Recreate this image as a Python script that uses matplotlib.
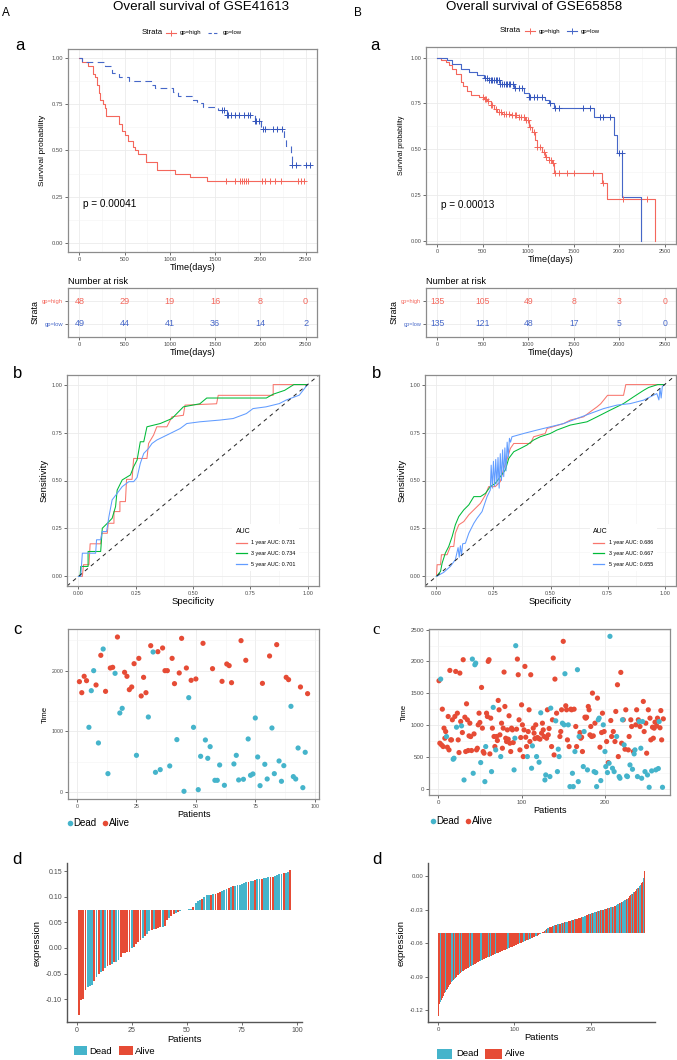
import numpy as np
import matplotlib
matplotlib.use('Agg')
import matplotlib.pyplot as plt
from matplotlib.lines import Line2D
from matplotlib.patches import Rectangle

plt.rcParams['font.family'] = ['Liberation Sans', 'DejaVu Sans']
plt.rcParams['axes.unicode_minus'] = False

# ---------------- data: Kaplan-Meier (step times / survival after step) ----------------
km_a_high_t = [0, 30, 92, 150, 176, 195, 215, 231, 260, 280, 297, 433, 470, 506, 543, 591, 617, 653, 738, 855, 1057, 1222, 1413]
km_a_high_s = [1.0, 0.979, 0.958, 0.917, 0.896, 0.854, 0.812, 0.771, 0.75, 0.729, 0.688, 0.646, 0.604, 0.583, 0.552, 0.521, 0.5, 0.479, 0.438, 0.396, 0.375, 0.354, 0.333]
km_a_high_cens = [1615, 1718, 1780, 1798, 1820, 1846, 1864, 2018, 2055, 2110, 2161, 2231, 2419, 2444, 2477]
km_a_low_t = [0, 30, 286, 360, 433, 550, 800, 840, 1038, 1094, 1259, 1296, 1369, 1534, 1626, 1938, 2011, 2260, 2287, 2334, 2353]
km_a_low_s = [1.0, 0.98, 0.959, 0.918, 0.898, 0.878, 0.857, 0.837, 0.816, 0.796, 0.776, 0.755, 0.735, 0.72, 0.695, 0.66, 0.615, 0.57, 0.527, 0.47, 0.42]
km_a_low_cens = [1571, 1596, 1626, 1644, 1673, 1718, 1765, 1820, 1864, 1890, 1938, 1956, 1985, 2029, 2048, 2139, 2183, 2242, 2353, 2397, 2507, 2543]

km_b_high_t = [0, 37, 91, 128, 164, 201, 256, 285, 329, 365, 457, 511, 548, 585, 621, 658, 712, 804, 895, 968, 1005, 1041, 1078, 1096, 1151, 1187, 1224, 1260, 1279, 1808, 1863, 2393]
km_b_high_s = [1.0, 0.985, 0.976, 0.958, 0.94, 0.913, 0.868, 0.844, 0.819, 0.796, 0.787, 0.776, 0.765, 0.741, 0.72, 0.705, 0.693, 0.687, 0.678, 0.66, 0.624, 0.597, 0.552, 0.515, 0.488, 0.461, 0.443, 0.425, 0.371, 0.317, 0.23, 0.0]
km_b_high_cens = [500, 520, 540, 560, 585, 600, 640, 680, 700, 730, 760, 790, 820, 850, 870, 900, 920, 950, 975, 1000, 1020, 1060, 1100, 1130, 1170, 1200, 1230, 1250, 1270, 1290, 1333, 1425, 1498, 1717, 1827, 2046, 2301]
km_b_low_t = [0, 110, 164, 256, 347, 438, 511, 566, 694, 840, 950, 1005, 1187, 1224, 1279, 1724, 1943, 1973, 2035, 2236]
km_b_low_s = [1.0, 0.985, 0.967, 0.94, 0.922, 0.904, 0.891, 0.878, 0.859, 0.837, 0.805, 0.787, 0.769, 0.751, 0.724, 0.678, 0.58, 0.48, 0.242, 0.0]
km_b_low_cens = [520, 545, 566, 585, 600, 621, 640, 658, 680, 694, 710, 731, 750, 767, 790, 804, 830, 859, 900, 932, 1005, 1023, 1060, 1096, 1151, 1242, 1297, 1333, 1607, 1680, 1790, 1827, 1900, 2002, 2032]

risk_times = [0, 500, 1000, 1500, 2000, 2500]
risk_a_high = [48, 29, 19, 16, 8, 0]
risk_a_low = [49, 44, 41, 36, 14, 2]
risk_b_high = [135, 105, 49, 8, 3, 0]
risk_b_low = [135, 121, 48, 17, 5, 0]

# ---------------- data: ROC (x axis labelled Specificity) ----------------
roc_a1_x = [0, 0.017, 0.022, 0.046, 0.051, 0.097, 0.101, 0.126, 0.13, 0.155, 0.155, 0.181, 0.181, 0.205, 0.21, 0.234, 0.241, 0.299, 0.306, 0.328, 0.342, 0.386, 0.408, 0.458, 0.465, 0.603, 0.61, 0.85, 0.85, 1.0]
roc_a1_y = [0, 0, 0.061, 0.061, 0.17, 0.17, 0.225, 0.225, 0.277, 0.277, 0.338, 0.338, 0.39, 0.39, 0.506, 0.506, 0.615, 0.615, 0.693, 0.737, 0.78, 0.78, 0.832, 0.84, 0.893, 0.9, 0.944, 0.944, 1.0, 1.0]
roc_a3_x = [0, 0.007, 0.01, 0.042, 0.042, 0.097, 0.104, 0.126, 0.147, 0.162, 0.169, 0.191, 0.227, 0.241, 0.256, 0.27, 0.285, 0.299, 0.357, 0.408, 0.458, 0.53, 0.56, 0.82, 0.85, 0.9, 0.94, 1.0]
roc_a3_y = [0, 0, 0.052, 0.052, 0.13, 0.13, 0.251, 0.277, 0.303, 0.364, 0.45, 0.503, 0.529, 0.572, 0.607, 0.702, 0.702, 0.78, 0.797, 0.823, 0.884, 0.9, 0.93, 0.93, 0.95, 0.97, 1.0, 1.0]
roc_a5_x = [0, 0.01, 0.017, 0.075, 0.079, 0.097, 0.104, 0.123, 0.133, 0.147, 0.169, 0.191, 0.22, 0.241, 0.256, 0.27, 0.285, 0.306, 0.321, 0.342, 0.371, 0.4, 0.444, 0.473, 0.53, 0.617, 0.675, 0.733, 0.762, 0.819, 0.877, 0.906, 0.964, 1.0]
roc_a5_y = [0, 0, 0.121, 0.121, 0.191, 0.191, 0.234, 0.234, 0.312, 0.399, 0.433, 0.468, 0.494, 0.494, 0.516, 0.589, 0.641, 0.667, 0.693, 0.711, 0.728, 0.745, 0.771, 0.797, 0.806, 0.815, 0.823, 0.849, 0.875, 0.884, 0.901, 0.919, 0.945, 1.0]
auc_a = ['1 year AUC: 0.731', '3 year AUC: 0.734', '5 year AUC: 0.701']

roc_b1_x = [0, 0.003, 0.018, 0.022, 0.047, 0.061, 0.076, 0.083, 0.098, 0.12, 0.142, 0.164, 0.193, 0.215, 0.229, 0.258, 0.28, 0.295, 0.309, 0.324, 0.339, 0.412, 0.426, 0.477, 0.485, 0.558, 0.587, 0.645, 0.674, 0.704, 0.72, 0.75, 0.82, 0.83, 1.0]
roc_b1_y = [0, 0.061, 0.061, 0.113, 0.113, 0.156, 0.156, 0.225, 0.269, 0.286, 0.321, 0.347, 0.381, 0.425, 0.468, 0.468, 0.494, 0.563, 0.607, 0.667, 0.693, 0.693, 0.728, 0.745, 0.771, 0.797, 0.815, 0.832, 0.858, 0.884, 0.9, 0.944, 0.944, 1.0, 1.0]
roc_b3_x = [0, 0.018, 0.025, 0.039, 0.054, 0.069, 0.083, 0.098, 0.12, 0.142, 0.164, 0.193, 0.215, 0.236, 0.258, 0.28, 0.302, 0.317, 0.339, 0.368, 0.397, 0.426, 0.455, 0.499, 0.528, 0.587, 0.66, 0.704, 0.762, 0.82, 0.864, 0.908, 0.93, 0.97, 1.0]
roc_b3_y = [0, 0.026, 0.069, 0.121, 0.156, 0.208, 0.269, 0.312, 0.347, 0.373, 0.416, 0.416, 0.433, 0.468, 0.485, 0.52, 0.555, 0.615, 0.65, 0.667, 0.685, 0.711, 0.728, 0.745, 0.763, 0.789, 0.806, 0.832, 0.867, 0.901, 0.936, 0.97, 0.985, 1.0, 1.0]
roc_b5_x = [0, 0.032, 0.061, 0.083, 0.095, 0.1, 0.105, 0.11, 0.115, 0.127, 0.142, 0.164, 0.178, 0.2, 0.222, 0.236,
            0.24, 0.245, 0.25, 0.255, 0.26, 0.265, 0.27, 0.275, 0.28, 0.285, 0.29, 0.295, 0.3, 0.305, 0.31, 0.315, 0.32, 0.325,
            0.331, 0.382, 0.441, 0.499, 0.558, 0.616, 0.674, 0.733, 0.791, 0.85, 0.908, 0.966, 0.975, 0.98, 0.985, 0.99, 1.0]
roc_b5_y = [0, 0.021, 0.052, 0.087, 0.15, 0.1, 0.16, 0.11, 0.17, 0.173, 0.225, 0.277, 0.303, 0.338, 0.416, 0.45,
            0.58, 0.46, 0.6, 0.47, 0.61, 0.48, 0.62, 0.46, 0.64, 0.5, 0.66, 0.52, 0.67, 0.55, 0.7, 0.62, 0.72, 0.7,
            0.728, 0.745, 0.763, 0.78, 0.797, 0.823, 0.849, 0.875, 0.893, 0.901, 0.919, 0.953, 0.92, 0.98, 0.93, 0.99, 1.0]
auc_b = ['1 year AUC: 0.686', '3 year AUC: 0.667', '5 year AUC: 0.655']

# ---------------- data: patients (ordered by risk score), 1 = dead ----------------
times_a = [1819, 1637, 1907, 1835, 1066, 1670, 2000, 1764, 808, 2253,
           2357, 1659, 302, 2044, 2055, 1956, 2555, 1302, 1379, 1973,
           1907, 1687, 1731, 2115, 604, 2203, 1583, 1890, 1637, 1236,
           2412, 2308, 324, 2313, 368, 2374, 2000, 2000, 429, 2203,
           1786, 863, 1962, 2533, 11, 2044, 1555, 1841, 1066, 1863,
           38, 588, 2451, 857, 555, 747, 2033, 192, 192, 445,
           1824, 110, 2110, 2083, 1802, 462, 604, 198, 2495, 209,
           2171, 874, 275, 297, 1220, 577, 104, 1791, 456, 214,
           2242, 1055, 302, 2429, 511, 176, 434, 1890, 1852, 1412,
           253, 214, 725, 1731, 71, 654, 1621]
status_a = [0, 0, 0, 0, 1, 1, 1, 0, 1, 0,
            1, 0, 1, 0, 0, 1, 0, 1, 1, 0,
            0, 0, 0, 0, 1, 0, 0, 0, 0, 1,
            0, 1, 1, 0, 1, 0, 0, 0, 1, 0,
            0, 1, 0, 0, 1, 0, 1, 0, 1, 0,
            1, 1, 0, 1, 1, 1, 0, 1, 1, 1,
            0, 1, 0, 0, 0, 1, 1, 1, 0, 1,
            0, 1, 1, 1, 1, 1, 1, 0, 1, 1,
            0, 1, 1, 0, 1, 1, 1, 0, 0, 1,
            1, 1, 1, 0, 1, 1, 0]
expr_a = [-131, -101, -100, -83, -77, -75, -73, -64, -57, -51,
          -47, -46, -39, -36, -34, -32, -28, -27, -24, -18,
          -10, -9, -8, -7, -1, 2, 8, 11, 15, 19,
          23, 28, 34, 36, 37, 38, 39, 41, 42, 43,
          54, 59, 62, 66, 68, 70, 72, 74, 74.5, 75,
          76, 77, 80, 88, 93, 94, 96, 100, 103, 104,
          104, 105, 106, 107, 109, 111, 113, 115, 117, 119,
          121, 122, 123, 124, 125, 127, 129, 130, 132, 132,
          134, 135, 135, 136, 137, 138, 140, 140, 140, 142,
          143, 145, 145, 146, 147, 148, 153]  # x 1e-3
expr_a_base = 0.075

times_b = [1698, 718, 1724, 692, 1252, 665, 954, 796, 901, 823,
           655, 1137, 613, 1860, 770, 770, 1085, 466, 482, 1137,
           1844, 969, 1189, 770, 571, 1818, 1058, 990, 885, 2028,
           141, 1126, 587, 1336, 1085, 603, 833, 1032, 822, 603,
           2038, 246, 864, 1949, 1975, 613, 639, 1006, 1189, 1043,
           414, 1593, 954, 587, 561, 115, 665, 1189, 1137, 2002,
           2028, 550, 1111, 272, 954, 1280, 823, 665, 613, 823,
           760, 1389, 1242, 849, 508, 1032, 639, 954, 1834, 1294,
           796, 744, 927, 781, 1148, 718, 587, 954, 927, 728,
           299, 796, 2248, 938, 2038, 1792, 1085, 613, 807, 1320,
           1006, 508, 927, 1923, 812, 665, 508, 901, 1242, 744,
           1792, 325, 676, 954, 875, 791, 1006, 508, 807, 796,
           419, 781, 1195, 875, 1032, 927, 823, 141, 220, 796,
           1242, 849, 948, 194, 1268, 665, 1085, 2054, 534, 1724,
           1069, 1189, 272, 624, 508, 823, 901, 1242, 1032, 2316,
           1006, 1808, 1305, 1242, 770, 1006, 665, 37, 1252, 1242,
           246, 37, 1252, 587, 980, 665, 1871, 115, 823, 885,
           796, 812, 587, 351, 901, 1126, 1111, 1126, 299, 1294,
           1242, 849, 980, 823, 1504, 833, 272, 1032, 257, 37,
           1425, 1085, 1111, 655, 131, 885, 1189, 1006, 901, 587,
           351, 744, 257, 414, 403, 2395, 1074, 823, 325, 901,
           272, 744, 1216, 823, 1635, 508, 194, 168, 1829, 718,
           1085, 1085, 692, 624, 1242, 204, 194, 613, 823, 377,
           1085, 980, 309, 587, 550, 613, 1006, 1242, 194, 1085,
           1058, 980, 639, 168, 1058, 1373, 901, 272, 1032, 561,
           220, 1242, 26, 1111, 770, 283, 969, 796, 954, 1048,
           299, 990, 1111, 320, 1058, 960, 1230, 770, 26, 1100]
status_b = [0, 0, 1, 0, 0, 0, 0, 0, 0, 1,
            0, 0, 0, 0, 0, 0, 0, 1, 1, 0,
            0, 1, 0, 0, 0, 0, 0, 1, 0, 0,
            1, 0, 0, 0, 0, 0, 0, 0, 0, 0,
            1, 1, 0, 1, 1, 0, 0, 0, 0, 0,
            1, 0, 0, 0, 0, 1, 1, 0, 0, 0,
            0, 0, 0, 1, 0, 1, 0, 0, 1, 0,
            0, 0, 0, 0, 1, 0, 0, 0, 0, 0,
            0, 0, 0, 0, 0, 0, 0, 0, 0, 0,
            1, 1, 1, 0, 0, 0, 0, 0, 0, 0,
            0, 0, 0, 0, 0, 0, 1, 0, 0, 0,
            0, 1, 1, 0, 0, 0, 0, 1, 0, 0,
            1, 0, 1, 0, 0, 0, 0, 1, 1, 0,
            0, 0, 0, 1, 1, 0, 0, 0, 0, 0,
            1, 0, 1, 1, 1, 0, 0, 0, 1, 0,
            1, 1, 0, 0, 0, 1, 0, 1, 0, 0,
            1, 1, 0, 1, 0, 0, 1, 1, 1, 0,
            0, 0, 0, 1, 1, 0, 0, 0, 1, 0,
            0, 0, 0, 0, 0, 0, 1, 0, 1, 1,
            0, 1, 1, 0, 1, 0, 0, 1, 0, 1,
            1, 0, 1, 0, 1, 1, 0, 0, 1, 0,
            1, 0, 0, 1, 0, 0, 1, 1, 0, 0,
            1, 0, 1, 0, 0, 1, 1, 0, 0, 1,
            0, 0, 1, 0, 1, 1, 0, 0, 1, 0,
            1, 0, 1, 1, 1, 0, 0, 1, 0, 0,
            1, 0, 1, 0, 0, 1, 0, 0, 0, 0,
            1, 0, 0, 1, 1, 0, 0, 0, 1, 0]
expr_b = [-1250, -1140, -1128, -1115, -1105, -1090, -1075, -1062, -1048, -1035,
          -1020, -1008, -998, -988, -975, -965, -955, -946, -938, -930,
          -922, -915, -908, -900, -893, -887, -880, -873, -866, -858,
          -853, -849, -845, -841, -837, -833, -829, -825, -821, -817,
          -813, -809, -805, -801, -797, -793, -789, -785, -781, -777,
          -773, -769, -765, -761, -757, -754, -750, -747, -743, -740,
          -737, -734, -731, -728, -725, -722, -719, -716, -713, -710,
          -707, -704, -701, -698, -695, -692, -689, -686, -683, -680,
          -677, -674, -671, -668, -665, -662, -659, -656, -653, -650,
          -647, -644, -641, -638, -635, -632, -629, -626, -623, -620,
          -617, -614, -611, -608, -605, -602, -599, -596, -593, -590,
          -587, -584, -581, -578, -575, -572, -569, -566, -563, -560,
          -557, -554, -551, -548, -545, -542, -539, -536, -533, -530,
          -524, -520, -516, -512, -509, -505, -500, -494, -488, -482,
          -476, -471, -466, -462, -458, -455, -452, -449, -446, -443,
          -440, -438, -436, -434, -432, -430, -428, -426, -424, -422,
          -420, -418, -416, -414, -412, -410, -408, -406, -404, -402,
          -400, -398, -396, -394, -392, -390, -388, -386, -384, -382,
          -380, -378, -376, -374, -372, -370, -368, -365, -362, -360,
          -357, -354, -351, -348, -345, -342, -339, -336, -333, -330,
          -328, -326, -324, -322, -320, -318, -316, -314, -312, -310,
          -308, -306, -304, -302, -300, -298, -296, -294, -292, -290,
          -288, -286, -284, -282, -280, -278, -276, -274, -272, -270,
          -266, -262, -258, -254, -250, -246, -242, -238, -234, -230,
          -226, -222, -218, -214, -210, -206, -202, -198, -190, -180,
          -174, -168, -162, -156, -150, -144, -138, -132, -124, -116,
          -108, -100, -92, -84, -74, -62, -48, -30, -10, 50]  # x 1e-4
expr_b_base = -0.0507

# ---------------- styling ----------------
KM_RED = '#F4675C'
KM_BLUE = '#4667C8'
DEAD = '#45B4CB'
ALIVE = '#E64B35'
ROC_COLS = ['#F8766D', '#00BA38', '#619CFF']
W, H = 677, 1060

fig = plt.figure(figsize=(W / 100, H / 100), dpi=100)


def add_ax(x0, y0, x1, y1):
    return fig.add_axes([x0 / W, 1 - y1 / H, (x1 - x0) / W, (y1 - y0) / H])


def ftext(x, y, s, **kw):
    fig.text(x / W, 1 - y / H, s, **kw)


def fline(x0, x1, y, **kw):
    fig.add_artist(Line2D([x0 / W, x1 / W], [1 - y / H, 1 - y / H], transform=fig.transFigure, **kw))


def fpoint(x, y, **kw):
    fig.add_artist(Line2D([x / W], [1 - y / H], transform=fig.transFigure, ls='none', **kw))


def fsquare(x0, y0, x1, y1, color):
    fig.add_artist(Rectangle((x0 / W, 1 - y1 / H), (x1 - x0) / W, (y1 - y0) / H,
                             transform=fig.transFigure, color=color, lw=0))


def box_style(ax, tsize):
    for s in ax.spines.values():
        s.set_color('#8C8C8C')
        s.set_linewidth(0.9)
    ax.tick_params(labelsize=tsize, labelcolor='#4D4D4D', length=2, width=0.5, color='#333333', pad=1.5)
    ax.tick_params(which='minor', length=0)
    ax.grid(True, which='major', color='#EBEBEB', lw=0.6)
    ax.grid(True, which='minor', color='#F3F3F3', lw=0.4)
    ax.set_axisbelow(True)


def surv_at(t_steps, s_steps, times):
    idx = np.searchsorted(t_steps, times, side='right') - 1
    return np.asarray(s_steps)[idx]


def km_panel(box, t_hi, s_hi, c_hi, t_lo, s_lo, c_lo, end_hi, end_lo, dashed, ylim, pval, pv_y, tsize, lsize):
    ax = add_ax(*box)
    box_style(ax, tsize)
    lo_style = (0, (6, 4)) if dashed else '-'
    ax.step(t_hi + [end_hi], s_hi + [s_hi[-1]], where='post', color=KM_RED, lw=0.8)
    ax.step(t_lo + [end_lo], s_lo + [s_lo[-1]], where='post', color=KM_BLUE, lw=0.8, ls=lo_style)
    ax.plot(c_hi, surv_at(t_hi, s_hi, c_hi), ls='none', marker='+', ms=4, mew=0.7, color=KM_RED)
    ax.plot(c_lo, surv_at(t_lo, s_lo, c_lo), ls='none', marker='+', ms=4, mew=0.7, color='#3556BC')
    ax.set_xlim(-125, 2625)
    ax.set_ylim(*ylim)
    ax.set_xticks(risk_times)
    ax.set_xticks([250, 750, 1250, 1750, 2250], minor=True)
    ax.set_yticks([0, 0.25, 0.5, 0.75, 1.0])
    ax.set_yticks([0.125, 0.375, 0.625, 0.875], minor=True)
    ax.set_yticklabels(['0.00', '0.25', '0.50', '0.75', '1.00'])
    ax.set_xlabel('Time(days)', fontsize=6.6, labelpad=0.5)
    ax.set_ylabel('Survival probability', fontsize=lsize, labelpad=4)
    ax.text(45, pv_y, pval, fontsize=7.2, va='center', ha='left')
    return ax


def risk_panel(box, n_hi, n_lo, nsize, tsize):
    ax = add_ax(*box)
    box_style(ax, tsize)
    ax.set_xlim(-125, 2625)
    ax.set_ylim(0.4, 2.6)
    ax.set_xticks(risk_times)
    ax.set_xticks([250, 750, 1250, 1750, 2250], minor=True)
    ax.set_yticks([1, 2])
    ax.set_yticklabels(['gp=low', 'gp=high'])
    for lab, c in zip(ax.get_yticklabels(), [KM_BLUE, KM_RED]):
        lab.set_color(c)
    for t, a, b in zip(risk_times, n_hi, n_lo):
        ax.text(t, 2, str(a), color=KM_RED, fontsize=nsize, ha='center', va='center')
        ax.text(t, 1, str(b), color=KM_BLUE, fontsize=nsize, ha='center', va='center')
    ax.set_title('Number at risk', loc='left', fontsize=6.6, pad=3)
    ax.set_xlabel('Time(days)', fontsize=6.6, labelpad=0.5)
    ax.set_ylabel('Strata', fontsize=6.4, labelpad=2)
    return ax


def roc_panel(box, curves, labels, tsize):
    ax = add_ax(*box)
    box_style(ax, tsize)
    for (x, y), c in zip(curves, ROC_COLS):
        ax.plot(x, y, color=c, lw=0.75)
    ax.axline((0, 0), (1, 1), color='#222222', lw=0.7, ls=(0, (4, 4)))
    ax.set_xlim(-0.05, 1.05)
    ax.set_ylim(-0.05, 1.05)
    tk = [0, 0.25, 0.5, 0.75, 1.0]
    ax.set_xticks(tk)
    ax.set_yticks(tk)
    ax.set_xticks([0.125, 0.375, 0.625, 0.875], minor=True)
    ax.set_yticks([0.125, 0.375, 0.625, 0.875], minor=True)
    ax.set_xticklabels(['%.2f' % v for v in tk])
    ax.set_yticklabels(['%.2f' % v for v in tk])
    ax.set_xlabel('Specificity', fontsize=6.8, labelpad=0.5)
    ax.set_ylabel('Sensitivity', fontsize=6.8, labelpad=2)
    handles = [Line2D([], [], color=c, lw=0.9) for c in ROC_COLS]
    leg = ax.legend(handles, labels, title='AUC', loc='lower left', bbox_to_anchor=(0.645, 0.06),
                    fontsize=3.9, title_fontsize=5, frameon=True, fancybox=False, handlelength=2.0,
                    borderpad=0.7, labelspacing=1.05, handletextpad=0.8)
    leg.get_frame().set_edgecolor('none')
    leg.get_frame().set_alpha(1)
    leg._legend_box.align = 'left'
    return ax


def scatter_panel(box, times, status, xlim, ylim, xt, yt, ymin, tsize):
    ax = add_ax(*box)
    box_style(ax, tsize)
    idx = np.arange(1, len(times) + 1)
    t = np.asarray(times)
    st = np.asarray(status)
    ax.scatter(idx[st == 0], t[st == 0], s=14, color=ALIVE, edgecolors='none')
    ax.scatter(idx[st == 1], t[st == 1], s=14, color=DEAD, edgecolors='none')
    ax.set_xlim(*xlim)
    ax.set_ylim(*ylim)
    ax.set_xticks(xt)
    ax.set_yticks(yt)
    ax.set_yticks(ymin, minor=True)
    ax.set_xticks([(a + b) / 2 for a, b in zip(xt[:-1], xt[1:])], minor=True)
    ax.set_xlabel('Patients', fontsize=6.6, labelpad=0.5)
    ax.set_ylabel('Time', fontsize=5.6, labelpad=2)
    return ax


def bar_panel(box, expr, base, status, xlim, ylim, xt, yt, tsize, width):
    ax = add_ax(*box)
    idx = np.arange(1, len(expr) + 1)
    e = np.asarray(expr)
    cols = [DEAD if s else ALIVE for s in status]
    ax.bar(idx, e - base, bottom=base, color=cols, width=width, lw=0)
    ax.set_xlim(*xlim)
    ax.set_ylim(*ylim)
    ax.set_xticks(xt)
    ax.set_yticks(yt)
    ax.set_yticklabels(['%.2f' % v for v in yt])
    for s in ['top', 'right']:
        ax.spines[s].set_visible(False)
    for s in ['left', 'bottom']:
        ax.spines[s].set_color('#555555')
        ax.spines[s].set_linewidth(1.0)
    ax.tick_params(labelsize=tsize, labelcolor='#4D4D4D', length=2, width=0.5, color='#333333', pad=1.5)
    ax.set_xlabel('Patients', fontsize=6.8, labelpad=0.5)
    ax.set_ylabel('expression', fontsize=6.8, labelpad=3)
    return ax


# ---------------- panels ----------------
km_panel((68, 49, 317, 252), km_a_high_t, km_a_high_s, km_a_high_cens,
         km_a_low_t, km_a_low_s, km_a_low_cens, 2480, 2550, True, (-0.05, 1.05),
         'p = 0.00041', 0.21, 4.2, 6.0)
km_panel((426, 47, 676, 244), km_b_high_t, km_b_high_s, km_b_high_cens,
         km_b_low_t, km_b_low_s, km_b_low_cens, 2393, 2236, False, (-0.016, 1.058),
         'p = 0.00013', 0.195, 4.0, 5.0)

risk_panel((68, 288, 317, 337), risk_a_high, risk_a_low, 6.6, 4.2)
risk_panel((426, 288, 676, 337), risk_b_high, risk_b_low, 6.2, 4.0)

roc_panel((67, 375, 319, 586), [(roc_a1_x, roc_a1_y), (roc_a3_x, roc_a3_y), (roc_a5_x, roc_a5_y)], auc_a, 4.0)
roc_panel((425, 375, 676, 586), [(roc_b1_x, roc_b1_y), (roc_b3_x, roc_b3_y), (roc_b5_x, roc_b5_y)], auc_b, 4.0)

scatter_panel((68, 629, 319, 799), times_a, status_a, (-3.8, 101.8), (-116, 2687),
              [0, 25, 50, 75, 100], [0, 1000, 2000], [500, 1500, 2500], 3.8)
scatter_panel((429, 629, 670, 795), times_b, status_b, (-11, 278), (-95, 2510),
              [0, 100, 200], [0, 500, 1000, 1500, 2000, 2500], [250, 750, 1250, 1750, 2250], 4.4)

bar_panel((67, 863, 302, 1022), [v / 1000 for v in expr_a], expr_a_base, status_a,
          (-4.4, 102.3), (-0.145, 0.1665), [0, 25, 50, 75, 100],
          [-0.10, -0.05, 0.00, 0.05, 0.10, 0.15], 5.0, 0.85)
bar_panel((428, 863, 655, 1022), [v / 10000 for v in expr_b], expr_b_base, status_b,
          (-13, 283.8), (-0.1304, 0.012), [0, 100, 200],
          [-0.12, -0.09, -0.06, -0.03, 0.00], 4.3, 1.0)

# ---------------- titles, letters, legends ----------------
ftext(201, 7, 'Overall survival of GSE41613', fontsize=9.6, ha='center', va='center')
ftext(534, 7, 'Overall survival of GSE65858', fontsize=9.6, ha='center', va='center')
ftext(2, 13, 'A', fontsize=8.5, va='center')
ftext(354, 13, 'B', fontsize=8.5, va='center')
for x, y, s in [(15, 45, 'a'), (370, 46, 'a'), (13, 374, 'b'), (372, 374, 'b'),
                (13, 630, 'c'), (12, 860, 'd'), (372, 860, 'd')]:
    ftext(x, y, s, fontsize=12, va='center')
ftext(372, 630, 'c', fontsize=12, va='center', family='Liberation Serif')

# KM strata legends
ftext(142, 32.5, 'Strata', fontsize=5.6, va='center')
fline(166, 176, 32.5, color=KM_RED, lw=0.8)
fpoint(171, 32.5, marker='+', ms=4, mew=0.7, color=KM_RED)
ftext(180, 32.5, 'gp=high', fontsize=4.3, va='center')
fline(208, 218, 32.5, color=KM_BLUE, lw=0.8, ls=(0, (3, 2)))
ftext(223, 32.5, 'gp=low', fontsize=4.3, va='center')

ftext(500, 31, 'Strata', fontsize=5.6, va='center')
fline(525, 535, 31, color=KM_RED, lw=0.8)
fpoint(530, 31, marker='+', ms=4, mew=0.7, color=KM_RED)
ftext(539, 31, 'gp=high', fontsize=4.3, va='center')
fline(567, 577, 31, color=KM_BLUE, lw=0.8)
fpoint(572, 31, marker='+', ms=4, mew=0.7, color=KM_BLUE)
ftext(581, 31, 'gp=low', fontsize=4.3, va='center')

# scatter legends
for x0, y0 in [(70, 823), (433, 821)]:
    fpoint(x0, y0, marker='o', ms=4, color=DEAD, mew=0)
    ftext(x0 + 3.5, y0, 'Dead', fontsize=7, va='center')
    fpoint(x0 + 35, y0, marker='o', ms=4, color=ALIVE, mew=0)
    ftext(x0 + 38.5, y0, 'Alive', fontsize=7, va='center')

# bar legends
fsquare(74, 1046, 87, 1055, DEAD)
ftext(89, 1051, 'Dead', fontsize=6.8, va='center')
fsquare(119, 1046, 133, 1055, ALIVE)
ftext(135, 1051, 'Alive', fontsize=6.8, va='center')
fsquare(437, 1049, 452, 1059, DEAD)
ftext(456, 1054, 'Dead', fontsize=6.8, va='center')
fsquare(485, 1049, 502, 1059, ALIVE)
ftext(505, 1054, 'Alive', fontsize=6.8, va='center')

fig.savefig('out.png', dpi=100, facecolor='white')
